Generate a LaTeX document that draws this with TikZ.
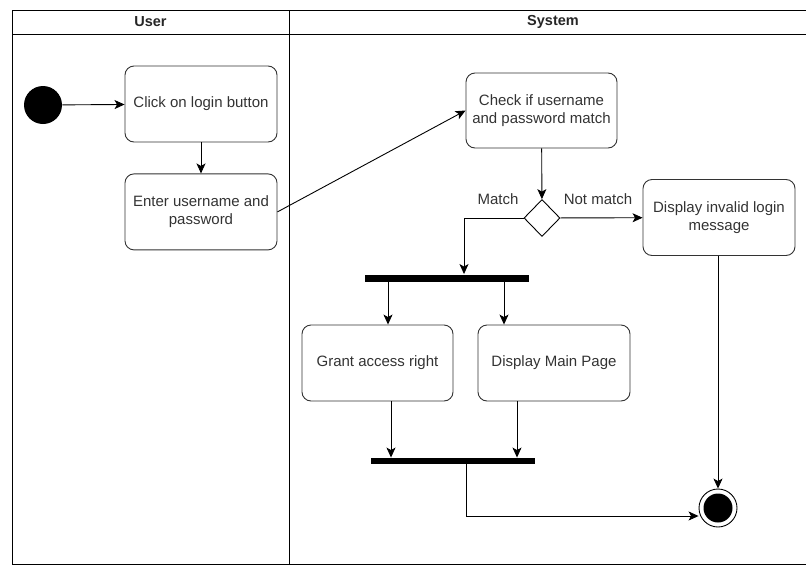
\documentclass[tikz,border=0pt]{standalone}
\usepackage{fontspec}
\setmainfont{Liberation Sans}
\usepackage{xcolor}
\usetikzlibrary{arrows.meta,positioning,calc,shapes.geometric}

\begin{document}
\begin{tikzpicture}[x=1pt,y=-1pt,font=\fontsize{15}{18}\selectfont,
  act/.style={draw=black!80,rounded corners=9pt,align=center,minimum width=152pt,minimum height=76pt,inner sep=2pt,text=black!80},
  bar/.style={fill=black,minimum width=164pt,minimum height=7pt,inner sep=0pt},
  dec/.style={draw,diamond,minimum width=36pt,minimum height=37pt,inner sep=0pt},
  lane/.style={font=\bfseries\fontsize{14.5}{16}\selectfont,text=black!85},
  lbl/.style={text=black!80},
  >={Stealth[length=10pt,width=9pt,inset=2.5pt]}, line width=0.9pt]
\useasboundingbox (0,0) rectangle (806,568);
% swimlanes
\draw (12,10) rectangle (817,564);
\draw (12,34) -- (817,34); \draw (289,10) -- (289,564);
\node[lane] (user) at (150.5,22) {User};
\node[lane] (sys) at (553,22) {System};
% activities
\node[circle,fill=black,minimum size=38pt,inner sep=0pt] (init) at (43,105) {};
\node[act] (click) at (201,104) {Click on login button};
\node[act,below=31pt of click] (enter) {Enter username and\\password};
\node[act,minimum width=151pt,minimum height=75pt] (check) at (541.5,110.5) {Check if username\\and password match};
\node[dec] (dec) at (542,218) {};
\node[act] (invalid) at (719,217.5) {Display invalid login\\message};
\node[bar] (fork) at (447,278) {};
\node[act,minimum width=151pt] (grant) at (377.5,363) {Grant access right};
\node[act] (mainpg) at (554,363) {Display Main Page};
\node[bar,minimum height=6pt] (join) at (453,461) {};
\node[circle,draw,minimum size=38pt,inner sep=0pt] (final) at (718,508) {};
\node[circle,fill=black,minimum size=29pt,inner sep=0pt] (finaldot) at (final) {};
\node[lbl] (match) at (498,199) {Match};
\node[lbl] (nomatch) at (598,199) {Not match};
% flows
\draw[->] (init) -- (click); \draw[->] (click) -- (enter);
\draw[->] (enter.east) -- (check.west);
\draw[->] (check) -- (dec); \draw[->] (dec) -- (invalid);
\draw[->] (dec.west) -| ([xshift=17pt]fork.north);
\draw[->] ([xshift=-59pt]fork.south) -- ([xshift=10.5pt]grant.north);
\draw[->] ([xshift=57pt]fork.south) -- ([xshift=-50pt]mainpg.north);
\draw[->] ([xshift=13.5pt]grant.south) -- ([xshift=-62pt]join.north);
\draw[->] ([xshift=-37pt]mainpg.south) -- ([xshift=64pt]join.north);
\draw[->] ([xshift=13pt]join.south) |- ([yshift=-8pt]final.west);
\draw[->] (invalid.south -| final) -- (final.north);
\end{tikzpicture}
\end{document}
